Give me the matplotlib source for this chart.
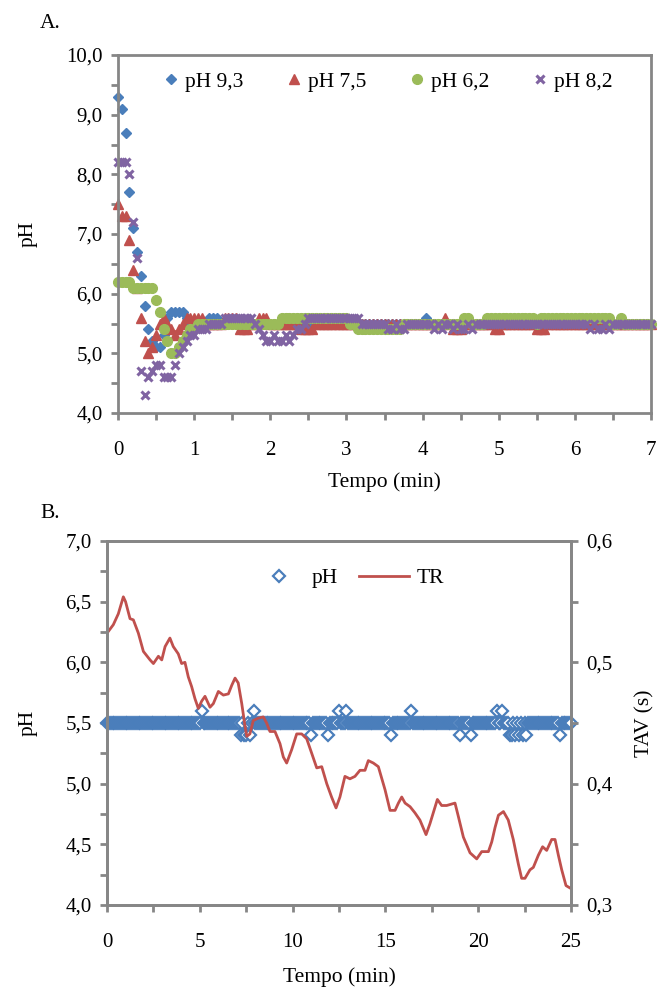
import numpy as np
import matplotlib
matplotlib.use("Agg")
import matplotlib.pyplot as plt
from matplotlib.ticker import MultipleLocator, FuncFormatter
from matplotlib.lines import Line2D

plt.rcParams['font.family'] = ['Liberation Serif', 'DejaVu Serif']

# ---------------- Panel A data (sampled every 0.05 min, 0 .. 7 min) ----------------
step_a = 0.05
ph_93 = [9.3, 9.1, 8.7, 7.7, 7.1, 6.7, 6.3, 5.8, 5.4, 5.2,
         5.1, 5.1, 5.3, 5.6, 5.7, 5.7, 5.7, 5.7, 5.6, 5.5,
         5.5, 5.5, 5.5, 5.5, 5.6, 5.6, 5.6, 5.5, 5.5, 5.5,
         5.5, 5.5, 5.5, 5.5, 5.5, 5.5, 5.5, 5.5, 5.5, 5.5,
         5.5, 5.5, 5.5, 5.6, 5.6, 5.5, 5.5, 5.5, 5.5, 5.5,
         5.5, 5.5, 5.5, 5.5, 5.5, 5.5, 5.5, 5.5, 5.5, 5.5,
         5.5, 5.5, 5.5, 5.5, 5.5, 5.5, 5.5, 5.5, 5.5, 5.5,
         5.5, 5.5, 5.5, 5.5, 5.5, 5.5, 5.5, 5.5, 5.5, 5.5,
         5.5, 5.6, 5.5, 5.5, 5.5, 5.5, 5.5, 5.5, 5.5, 5.5,
         5.5, 5.5, 5.5, 5.5, 5.5, 5.5, 5.5, 5.5, 5.5, 5.5,
         5.5, 5.5, 5.5, 5.5, 5.5, 5.5, 5.6, 5.5, 5.5, 5.5,
         5.5, 5.5, 5.5, 5.5, 5.5, 5.5, 5.5, 5.5, 5.5, 5.5,
         5.6, 5.5, 5.6, 5.5, 5.5, 5.5, 5.5, 5.5, 5.5, 5.5,
         5.5, 5.5, 5.5, 5.5, 5.5, 5.5, 5.5, 5.5, 5.5, 5.5, 5.5]
ph_75 = [7.5, 7.3, 7.3, 6.9, 6.4, 6.1, 5.6, 5.2, 5.0, 5.1,
         5.3, 5.5, 5.6, 5.5, 5.4, 5.3, 5.4, 5.5, 5.6, 5.6,
         5.6, 5.6, 5.6, 5.5, 5.5, 5.5, 5.5, 5.5, 5.6, 5.6,
         5.6, 5.6, 5.4, 5.4, 5.4, 5.5, 5.5, 5.6, 5.6, 5.6,
         5.5, 5.5, 5.5, 5.5, 5.5, 5.5, 5.5, 5.5, 5.4, 5.4,
         5.4, 5.4, 5.5, 5.5, 5.5, 5.5, 5.5, 5.5, 5.5, 5.5,
         5.5, 5.5, 5.5, 5.5, 5.5, 5.5, 5.5, 5.5, 5.5, 5.5,
         5.5, 5.5, 5.5, 5.5, 5.5, 5.5, 5.5, 5.5, 5.5, 5.5,
         5.5, 5.5, 5.5, 5.5, 5.5, 5.5, 5.6, 5.5, 5.4, 5.4,
         5.4, 5.5, 5.5, 5.5, 5.5, 5.5, 5.5, 5.5, 5.5, 5.4,
         5.4, 5.5, 5.5, 5.5, 5.5, 5.5, 5.5, 5.5, 5.5, 5.5,
         5.4, 5.4, 5.4, 5.5, 5.5, 5.5, 5.5, 5.5, 5.5, 5.5,
         5.5, 5.5, 5.5, 5.5, 5.5, 5.5, 5.5, 5.5, 5.5, 5.5,
         5.5, 5.5, 5.5, 5.5, 5.5, 5.5, 5.5, 5.5, 5.5, 5.5, 5.5]
ph_62 = [6.2, 6.2, 6.2, 6.2, 6.1, 6.1, 6.1, 6.1, 6.1, 6.1,
         5.9, 5.7, 5.4, 5.2, 5.0, 5.0, 5.1, 5.2, 5.3, 5.4,
         5.4, 5.5, 5.5, 5.5, 5.5, 5.5, 5.5, 5.5, 5.5, 5.5,
         5.5, 5.5, 5.5, 5.5, 5.5, 5.5, 5.5, 5.5, 5.5, 5.5,
         5.5, 5.5, 5.5, 5.6, 5.6, 5.6, 5.6, 5.6, 5.6, 5.6,
         5.6, 5.6, 5.6, 5.6, 5.6, 5.6, 5.6, 5.6, 5.6, 5.6,
         5.6, 5.5, 5.5, 5.4, 5.4, 5.4, 5.4, 5.4, 5.4, 5.4,
         5.4, 5.4, 5.4, 5.4, 5.4, 5.5, 5.5, 5.5, 5.5, 5.5,
         5.5, 5.5, 5.5, 5.5, 5.5, 5.5, 5.5, 5.5, 5.5, 5.5,
         5.5, 5.6, 5.6, 5.5, 5.5, 5.5, 5.5, 5.6, 5.6, 5.6,
         5.6, 5.6, 5.6, 5.6, 5.6, 5.6, 5.6, 5.6, 5.6, 5.6,
         5.5, 5.6, 5.6, 5.6, 5.6, 5.6, 5.6, 5.6, 5.6, 5.6,
         5.6, 5.6, 5.6, 5.6, 5.6, 5.6, 5.6, 5.6, 5.6, 5.6,
         5.5, 5.5, 5.6, 5.5, 5.5, 5.5, 5.5, 5.5, 5.5, 5.5, 5.5]
ph_82 = [8.2, 8.2, 8.2, 8.0, 7.2, 6.6, 4.7, 4.3, 4.6, 4.7,
         4.8, 4.8, 4.6, 4.6, 4.6, 4.8, 5.0, 5.1, 5.2, 5.3,
         5.3, 5.4, 5.4, 5.4, 5.5, 5.5, 5.5, 5.5, 5.6, 5.6,
         5.6, 5.6, 5.6, 5.6, 5.6, 5.6, 5.5, 5.4, 5.3, 5.2,
         5.2, 5.3, 5.2, 5.2, 5.3, 5.2, 5.3, 5.4, 5.4, 5.5,
         5.6, 5.6, 5.6, 5.6, 5.6, 5.6, 5.6, 5.6, 5.6, 5.6,
         5.6, 5.6, 5.6, 5.6, 5.5, 5.5, 5.5, 5.5, 5.5, 5.5,
         5.5, 5.4, 5.4, 5.5, 5.4, 5.4, 5.5, 5.5, 5.5, 5.5,
         5.5, 5.5, 5.5, 5.4, 5.5, 5.4, 5.5, 5.5, 5.4, 5.5,
         5.4, 5.4, 5.5, 5.4, 5.5, 5.5, 5.5, 5.5, 5.5, 5.5,
         5.5, 5.5, 5.5, 5.5, 5.5, 5.5, 5.5, 5.5, 5.5, 5.5,
         5.5, 5.5, 5.5, 5.5, 5.5, 5.5, 5.5, 5.5, 5.5, 5.5,
         5.5, 5.5, 5.5, 5.5, 5.4, 5.5, 5.4, 5.4, 5.5, 5.4,
         5.5, 5.5, 5.5, 5.5, 5.5, 5.5, 5.5, 5.5, 5.5, 5.5, 5.5]
series_a_labels = ["pH 9,3", "pH 7,5", "pH 6,2", "pH 8,2"]

# ---------------- Panel B data ----------------
step_b = 0.1  # pH sampled every 0.1 min, 0 .. 25 min
ph_b = [5.5, 5.5, 5.5, 5.5, 5.5, 5.5, 5.5, 5.5, 5.5, 5.5,
        5.5, 5.5, 5.5, 5.5, 5.5, 5.5, 5.5, 5.5, 5.5, 5.5,
        5.5, 5.5, 5.5, 5.5, 5.5, 5.5, 5.5, 5.5, 5.5, 5.5,
        5.5, 5.5, 5.5, 5.5, 5.5, 5.5, 5.5, 5.5, 5.5, 5.5,
        5.5, 5.5, 5.5, 5.5, 5.5, 5.5, 5.5, 5.5, 5.5, 5.5,
        5.5, 5.6, 5.5, 5.5, 5.5, 5.5, 5.5, 5.5, 5.5, 5.5,
        5.5, 5.5, 5.5, 5.5, 5.5, 5.5, 5.5, 5.5, 5.5, 5.5,
        5.5, 5.5, 5.4, 5.5, 5.4, 5.4, 5.5, 5.4, 5.5, 5.6,
        5.5, 5.5, 5.5, 5.5, 5.5, 5.5, 5.5, 5.5, 5.5, 5.5,
        5.5, 5.5, 5.5, 5.5, 5.5, 5.5, 5.5, 5.5, 5.5, 5.5,
        5.5, 5.5, 5.5, 5.5, 5.5, 5.5, 5.5, 5.5, 5.5, 5.5,
        5.4, 5.5, 5.5, 5.5, 5.5, 5.5, 5.5, 5.5, 5.5, 5.4,
        5.5, 5.5, 5.5, 5.5, 5.5, 5.6, 5.5, 5.5, 5.5, 5.6,
        5.5, 5.5, 5.5, 5.5, 5.5, 5.5, 5.5, 5.5, 5.5, 5.5,
        5.5, 5.5, 5.5, 5.5, 5.5, 5.5, 5.5, 5.5, 5.5, 5.5,
        5.5, 5.5, 5.5, 5.4, 5.5, 5.5, 5.5, 5.5, 5.5, 5.5,
        5.5, 5.5, 5.5, 5.5, 5.6, 5.5, 5.5, 5.5, 5.5, 5.5,
        5.5, 5.5, 5.5, 5.5, 5.5, 5.5, 5.5, 5.5, 5.5, 5.5,
        5.5, 5.5, 5.5, 5.5, 5.5, 5.5, 5.5, 5.5, 5.5, 5.5,
        5.4, 5.5, 5.5, 5.5, 5.5, 5.5, 5.4, 5.5, 5.5, 5.5,
        5.5, 5.5, 5.5, 5.5, 5.5, 5.5, 5.5, 5.5, 5.5, 5.5,
        5.6, 5.5, 5.5, 5.6, 5.5, 5.5, 5.5, 5.4, 5.4, 5.5,
        5.4, 5.5, 5.4, 5.5, 5.4, 5.5, 5.4, 5.5, 5.5, 5.5,
        5.5, 5.5, 5.5, 5.5, 5.5, 5.5, 5.5, 5.5, 5.5, 5.5,
        5.5, 5.5, 5.5, 5.5, 5.4, 5.5, 5.5, 5.5, 5.5, 5.5,
        5.5]
tr_time = [0, 0.34, 0.61, 0.88, 1.0, 1.24, 1.42, 1.69, 1.96, 2.32,
           2.5, 2.77, 2.95, 3.13, 3.39, 3.57, 3.84, 4.02, 4.2, 4.38,
           4.56, 4.74, 4.92, 5.1, 5.28, 5.55, 5.73, 6.0, 6.27, 6.54,
           6.72, 6.9, 7.07, 7.26, 7.44, 7.53, 7.7, 7.88, 8.15, 8.42,
           8.6, 8.78, 9.05, 9.32, 9.5, 9.68, 9.95, 10.22, 10.49, 10.76,
           11.03, 11.3, 11.57, 11.84, 12.1, 12.34, 12.55, 12.82, 13.09, 13.36,
           13.63, 13.9, 14.08, 14.35, 14.62, 14.98, 15.25, 15.52, 15.7, 15.88,
           16.06, 16.33, 16.59, 16.86, 17.19, 17.4, 17.62, 17.8, 18.03, 18.3,
           18.75, 18.93, 19.2, 19.56, 19.92, 20.19, 20.55, 20.73, 20.91, 21.09,
           21.36, 21.62, 21.89, 22.16, 22.34, 22.52, 22.79, 22.97, 23.24, 23.47,
           23.69, 23.96, 24.14, 24.32, 24.5, 24.73, 24.95]
tr_val = [0.524, 0.531, 0.540, 0.554, 0.550, 0.536, 0.535, 0.524, 0.509, 0.502,
          0.499, 0.505, 0.502, 0.513, 0.520, 0.513, 0.507, 0.499, 0.500, 0.488,
          0.480, 0.470, 0.462, 0.468, 0.472, 0.463, 0.466, 0.476, 0.473, 0.474,
          0.481, 0.487, 0.483, 0.466, 0.447, 0.439, 0.441, 0.452, 0.454, 0.455,
          0.450, 0.443, 0.443, 0.433, 0.422, 0.417, 0.428, 0.441, 0.441, 0.437,
          0.425, 0.413, 0.414, 0.400, 0.389, 0.380, 0.389, 0.406, 0.404, 0.406,
          0.411, 0.411, 0.419, 0.417, 0.414, 0.395, 0.378, 0.378, 0.384, 0.389,
          0.384, 0.381, 0.376, 0.370, 0.358, 0.367, 0.378, 0.387, 0.382, 0.382,
          0.384, 0.373, 0.356, 0.343, 0.338, 0.344, 0.344, 0.352, 0.364, 0.374,
          0.377, 0.370, 0.354, 0.334, 0.322, 0.322, 0.329, 0.331, 0.341, 0.348,
          0.345, 0.354, 0.354, 0.341, 0.329, 0.316, 0.314]

# ---------------- styling ----------------
BLUE = "#4A7EBB"
RED = "#C0504D"
GREEN = "#9BBB59"
PURPLE = "#8064A2"
GRAY = "#868686"
FS_TICK = 15
FS_LAB = 15.5


def comma_fmt(dec):
    return FuncFormatter(lambda v, p: (f"{v:.{dec}f}").replace(".", ","))


def style_axis(ax):
    for s in ax.spines.values():
        s.set_color(GRAY)
        s.set_linewidth(2.0)
    ax.tick_params(which="both", direction="out", color=GRAY, width=2.0,
                   length=5, labelsize=FS_TICK, pad=6)


fig = plt.figure(figsize=(6.61, 9.92), dpi=100)

# ---- Panel A ----
axA = fig.add_axes([118 / 661, 1 - 413 / 992, 533 / 661, 358 / 992])
tA = np.arange(len(ph_93)) * step_a
axA.plot(tA, ph_93, ls="none", marker="D", ms=5.5, color=BLUE, mec=BLUE,
         clip_on=False, label=series_a_labels[0])
axA.plot(tA, ph_75, ls="none", marker="^", ms=7, color=RED, mec=RED,
         clip_on=False, label=series_a_labels[1])
axA.plot(tA, ph_62, ls="none", marker="o", ms=7, color=GREEN, mec=GREEN,
         clip_on=False, label=series_a_labels[2])
axA.plot(tA, ph_82, ls="none", marker="x", ms=6, mew=2.2, color=PURPLE,
         clip_on=False, label=series_a_labels[3])
axA.set_xlim(0, 7)
axA.set_ylim(4, 10)
axA.xaxis.set_major_locator(MultipleLocator(1))
axA.xaxis.set_minor_locator(MultipleLocator(0.5))
axA.yaxis.set_major_locator(MultipleLocator(1))
axA.yaxis.set_minor_locator(MultipleLocator(0.5))
axA.xaxis.set_major_formatter(FuncFormatter(lambda v, p: f"{v:.0f}"))
axA.yaxis.set_major_formatter(comma_fmt(1))
style_axis(axA)
axA.tick_params(axis="x", pad=15)
axA.set_xlabel("Tempo (min)", fontsize=FS_LAB)
axA.set_ylabel("pH", fontsize=FS_LAB)
axA.xaxis.set_label_coords(0.5, -0.166)
axA.yaxis.set_label_coords(-0.150, 0.5)
axA.legend(loc="center", bbox_to_anchor=(0.507, 0.925), ncol=4, frameon=False,
           fontsize=FS_LAB, handlelength=0.6, handletextpad=0.35,
           columnspacing=2.05, borderpad=0, borderaxespad=0)
fig.text(40 / 661, 1 - 24 / 992, "A.", fontsize=FS_LAB, ha="left", va="center")

# ---- Panel B ----
axB = fig.add_axes([107 / 661, 1 - 905 / 992, 464 / 661, 364 / 992])
tB = np.arange(len(ph_b)) * step_b
axB.plot(tB, ph_b, ls="none", marker="D", ms=6.2, mfc="white", mec=BLUE,
         mew=1.6, clip_on=False)
axB.set_xlim(0, 25)
axB.set_ylim(4, 7)
axB.xaxis.set_major_locator(MultipleLocator(5))
axB.xaxis.set_minor_locator(MultipleLocator(2.5))
axB.yaxis.set_major_locator(MultipleLocator(0.5))
axB.yaxis.set_minor_locator(MultipleLocator(0.25))
axB.xaxis.set_major_formatter(FuncFormatter(lambda v, p: f"{v:.0f}"))
axB.yaxis.set_major_formatter(comma_fmt(1))
style_axis(axB)
axB.tick_params(axis="x", pad=15)
axB.set_xlabel("Tempo (min)", fontsize=FS_LAB)
axB.set_ylabel("pH", fontsize=FS_LAB)
axB.xaxis.set_label_coords(0.5, -0.172)
axB.yaxis.set_label_coords(-0.149, 0.5)

axB2 = axB.twinx()
axB2.plot(tr_time, tr_val, color=RED, lw=2.0)
axB2.set_ylim(0.3, 0.6)
axB2.yaxis.set_major_locator(MultipleLocator(0.1))
axB2.yaxis.set_minor_locator(MultipleLocator(0.05))
axB2.yaxis.set_major_formatter(comma_fmt(1))
style_axis(axB2)
axB2.set_ylabel("TAV (s)", fontsize=FS_LAB)
axB2.yaxis.set_label_coords(1.138, 0.5)

handles = [Line2D([], [], ls="none", marker="D", ms=6.2, mfc="white",
                  mec=BLUE, mew=1.6),
           Line2D([], [], color=RED, lw=2.0)]
axB2.legend(handles, ["pH", "TR"], loc="center", bbox_to_anchor=(0.522, 0.898),
            ncol=2, frameon=False, fontsize=FS_LAB, handlelength=2.3,
            handletextpad=0.35, columnspacing=1.0, borderpad=0,
            borderaxespad=0)
fig.text(40 / 661, 1 - 514 / 992, "B.", fontsize=FS_LAB, ha="left", va="center")

fig.savefig("out.png", dpi=100)
